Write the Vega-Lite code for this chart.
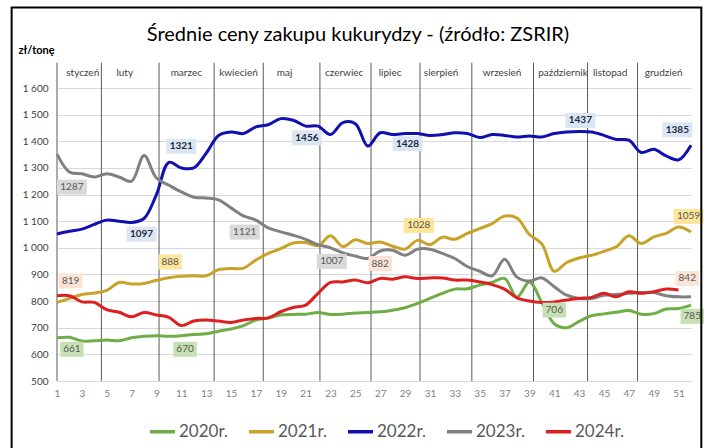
{
  "$schema": "https://vega.github.io/schema/vega-lite/v6.json",
  "width": 634,
  "height": 293,
  "autosize": {"type": "none"},
  "padding": {"left": 57, "top": 88, "right": 19, "bottom": 67},
  "background": "white",
  "config": {
    "font": "Lato",
    "view": {"stroke": null},
    "axis": {"labelOverlap": false, "labelFlush": false},
    "locale": {"number": {"decimal": ",", "thousands": " ", "grouping": [3], "currency": ["", " zł"]}}
  },
  "title": {
    "text": "Średnie ceny zakupu kukurydzy - (źródło: ZSRIR)",
    "fontSize": 20,
    "fontWeight": "normal",
    "color": "#000000",
    "anchor": "middle",
    "dx": -16,
    "offset": -38
  },
  "datasets": {
    "prices": [
      {"w": 1, "2020r": 662, "2021r": 795, "2022r": 1052, "2023r": 1352, "2024r": 820},
      {"w": 2, "2020r": 664, "2021r": 810, "2022r": 1062, "2023r": 1285, "2024r": 820},
      {"w": 3, "2020r": 650, "2021r": 825, "2022r": 1070, "2023r": 1278, "2024r": 797},
      {"w": 4, "2020r": 651, "2021r": 830, "2022r": 1088, "2023r": 1266, "2024r": 795},
      {"w": 5, "2020r": 654, "2021r": 840, "2022r": 1104, "2023r": 1278, "2024r": 768},
      {"w": 6, "2020r": 651, "2021r": 870, "2022r": 1100, "2023r": 1266, "2024r": 758},
      {"w": 7, "2020r": 662, "2021r": 864, "2022r": 1095, "2023r": 1250, "2024r": 741},
      {"w": 8, "2020r": 668, "2021r": 866, "2022r": 1110, "2023r": 1347, "2024r": 757},
      {"w": 9, "2020r": 670, "2021r": 878, "2022r": 1200, "2023r": 1262, "2024r": 748},
      {"w": 10, "2020r": 668, "2021r": 888, "2022r": 1321, "2023r": 1235, "2024r": 739},
      {"w": 11, "2020r": 670, "2021r": 893, "2022r": 1300, "2023r": 1210, "2024r": 708},
      {"w": 12, "2020r": 675, "2021r": 895, "2022r": 1300, "2023r": 1190, "2024r": 725},
      {"w": 13, "2020r": 677, "2021r": 895, "2022r": 1355, "2023r": 1187, "2024r": 729},
      {"w": 14, "2020r": 687, "2021r": 918, "2022r": 1422, "2023r": 1180, "2024r": 725},
      {"w": 15, "2020r": 695, "2021r": 922, "2022r": 1435, "2023r": 1150, "2024r": 720},
      {"w": 16, "2020r": 708, "2021r": 924, "2022r": 1429, "2023r": 1120, "2024r": 729},
      {"w": 17, "2020r": 729, "2021r": 954, "2022r": 1454, "2023r": 1104, "2024r": 735},
      {"w": 18, "2020r": 736, "2021r": 979, "2022r": 1462, "2023r": 1075, "2024r": 737},
      {"w": 19, "2020r": 748, "2021r": 997, "2022r": 1485, "2023r": 1060, "2024r": 760},
      {"w": 20, "2020r": 750, "2021r": 1018, "2022r": 1479, "2023r": 1047, "2024r": 776},
      {"w": 21, "2020r": 751, "2021r": 1020, "2022r": 1457, "2023r": 1032, "2024r": 785},
      {"w": 22, "2020r": 757, "2021r": 1008, "2022r": 1457, "2023r": 1012, "2024r": 829},
      {"w": 23, "2020r": 750, "2021r": 1045, "2022r": 1425, "2023r": 1000, "2024r": 870},
      {"w": 24, "2020r": 751, "2021r": 1005, "2022r": 1470, "2023r": 981, "2024r": 872},
      {"w": 25, "2020r": 755, "2021r": 1030, "2022r": 1466, "2023r": 969, "2024r": 879},
      {"w": 26, "2020r": 757, "2021r": 1016, "2022r": 1382, "2023r": 960, "2024r": 869},
      {"w": 27, "2020r": 760, "2021r": 1022, "2022r": 1432, "2023r": 988, "2024r": 885},
      {"w": 28, "2020r": 766, "2021r": 1006, "2022r": 1425, "2023r": 991, "2024r": 882},
      {"w": 29, "2020r": 775, "2021r": 995, "2022r": 1429, "2023r": 972, "2024r": 891},
      {"w": 30, "2020r": 791, "2021r": 1028, "2022r": 1429, "2023r": 995, "2024r": 885},
      {"w": 31, "2020r": 810, "2021r": 1012, "2022r": 1422, "2023r": 995, "2024r": 887},
      {"w": 32, "2020r": 829, "2021r": 1040, "2022r": 1425, "2023r": 979, "2024r": 887},
      {"w": 33, "2020r": 845, "2021r": 1032, "2022r": 1432, "2023r": 960, "2024r": 879},
      {"w": 34, "2020r": 846, "2021r": 1054, "2022r": 1429, "2023r": 930, "2024r": 879},
      {"w": 35, "2020r": 860, "2021r": 1072, "2022r": 1414, "2023r": 912, "2024r": 872},
      {"w": 36, "2020r": 870, "2021r": 1091, "2022r": 1425, "2023r": 895, "2024r": 862},
      {"w": 37, "2020r": 885, "2021r": 1119, "2022r": 1422, "2023r": 957, "2024r": 845},
      {"w": 38, "2020r": 815, "2021r": 1112, "2022r": 1416, "2023r": 890, "2024r": 812},
      {"w": 39, "2020r": 872, "2021r": 1050, "2022r": 1420, "2023r": 875, "2024r": 800},
      {"w": 40, "2020r": 795, "2021r": 1015, "2022r": 1416, "2023r": 887, "2024r": 795},
      {"w": 41, "2020r": 715, "2021r": 912, "2022r": 1429, "2023r": 854, "2024r": 797},
      {"w": 42, "2020r": 700, "2021r": 945, "2022r": 1435, "2023r": 822, "2024r": 804},
      {"w": 43, "2020r": 724, "2021r": 962, "2022r": 1437, "2023r": 810, "2024r": 810},
      {"w": 44, "2020r": 745, "2021r": 972, "2022r": 1435, "2023r": 810, "2024r": 814},
      {"w": 45, "2020r": 752, "2021r": 987, "2022r": 1422, "2023r": 822, "2024r": 829},
      {"w": 46, "2020r": 758, "2021r": 1004, "2022r": 1407, "2023r": 825, "2024r": 816},
      {"w": 47, "2020r": 765, "2021r": 1045, "2022r": 1404, "2023r": 829, "2024r": 835},
      {"w": 48, "2020r": 751, "2021r": 1016, "2022r": 1358, "2023r": 832, "2024r": 829},
      {"w": 49, "2020r": 753, "2021r": 1041, "2022r": 1370, "2023r": 832, "2024r": 835},
      {"w": 50, "2020r": 770, "2021r": 1054, "2022r": 1345, "2023r": 820, "2024r": 845},
      {"w": 51, "2020r": 772, "2021r": 1078, "2022r": 1330, "2023r": 816, "2024r": 842},
      {"w": 52, "2020r": 785, "2021r": 1059, "2022r": 1385, "2023r": 816, "2024r": null}
    ],
    "labels": [
      {"t": "1287", "s": "2023r", "w": 2.2, "v": 1228},
      {"t": "1097", "s": "2022r", "w": 7.8, "v": 1051},
      {"t": "1321", "s": "2022r", "w": 11, "v": 1381},
      {"t": "888", "s": "2021r", "w": 10.1, "v": 947},
      {"t": "1121", "s": "2023r", "w": 16.1, "v": 1059},
      {"t": "1456", "s": "2022r", "w": 21.1, "v": 1413},
      {"t": "1007", "s": "2023r", "w": 23.1, "v": 949},
      {"t": "819", "s": "2024r", "w": 2.1, "v": 876},
      {"t": "661", "s": "2020r", "w": 2.2, "v": 619},
      {"t": "670", "s": "2020r", "w": 11.3, "v": 619},
      {"t": "882", "s": "2024r", "w": 27, "v": 941},
      {"t": "1428", "s": "2022r", "w": 29.2, "v": 1391},
      {"t": "1028", "s": "2021r", "w": 30.1, "v": 1084},
      {"t": "1437", "s": "2022r", "w": 43.1, "v": 1478},
      {"t": "1385", "s": "2022r", "w": 50.9, "v": 1443},
      {"t": "1059", "s": "2021r", "w": 51.8, "v": 1118},
      {"t": "842", "s": "2024r", "w": 51.7, "v": 885},
      {"t": "706", "s": "2020r", "w": 41, "v": 766},
      {"t": "785", "s": "2020r", "w": 52.1, "v": 743}
    ],
    "months": [
      {"m": "styczeń", "w": 3.07},
      {"m": "luty", "w": 6.45},
      {"m": "marzec", "w": 11.4},
      {"m": "kwiecień", "w": 15.6},
      {"m": "maj", "w": 19.3},
      {"m": "czerwiec", "w": 24.1},
      {"m": "lipiec", "w": 27.8},
      {"m": "sierpień", "w": 31.9},
      {"m": "wrzesień", "w": 36.8},
      {"m": "październik", "w": 41.7},
      {"m": "listopad", "w": 45.5},
      {"m": "grudzień", "w": 49.8}
    ],
    "seps": [
      {"w": 1}, {"w": 4.57}, {"w": 9.21}, {"w": 13.64}, {"w": 17.59}, {"w": 22.15},
      {"w": 26.26}, {"w": 30.2}, {"w": 34.37}, {"w": 39.33}, {"w": 43.68}, {"w": 47.7}
    ]
  },
  "layer": [
    {
      "data": {"name": "seps"},
      "mark": {"type": "rule", "color": "#595959", "strokeWidth": 1},
      "encoding": {
        "x": {
          "field": "w", "type": "quantitative",
          "scale": {"domain": [1, 52], "nice": false, "zero": false},
          "axis": {
            "title": null,
            "values": [1,3,5,7,9,11,13,15,17,19,21,23,25,27,29,31,33,35,37,39,41,43,45,47,49,51],
            "tickCount": 60,
            "grid": false, "ticks": false, "tickSize": 0,
            "labelOverlap": false, "labelFlush": false,
            "domainColor": "#d9d9d9",
            "labelColor": "#7f7f7f", "labelFontSize": 10, "labelPadding": 7
          }
        },
        "y": {
          "datum": 500, "type": "quantitative",
          "scale": {"domain": [500, 1600], "nice": false, "zero": false},
          "axis": {
            "title": "zł/tonę",
            "titleAngle": 0, "titleX": -39, "titleY": -38,
            "titleAlign": "left", "titleBaseline": "middle",
            "titleFontSize": 11, "titleFontWeight": "bold", "titleColor": "#000000",
            "values": [500,600,700,800,900,1000,1100,1200,1300,1400,1500,1600],
            "tickCount": 30,
            "format": ",d",
            "labelOverlap": false, "labelFlush": false,
            "grid": true, "gridColor": "#d9d9d9",
            "domain": false, "ticks": false, "tickSize": 0,
            "labelColor": "#404040", "labelFontSize": 10, "labelPadding": 9
          }
        },
        "y2": {"datum": 1695}
      }
    },
    {
      "data": {"name": "prices"},
      "transform": [
        {"fold": ["2020r", "2021r", "2022r", "2023r", "2024r"], "as": ["s", "v"]}
      ],
      "mark": {"type": "line", "interpolate": "catmull-rom", "strokeWidth": 3},
      "encoding": {
        "x": {"field": "w", "type": "quantitative"},
        "y": {"field": "v", "type": "quantitative"},
        "stroke": {
          "field": "s", "type": "nominal",
          "scale": {
            "domain": ["2020r", "2021r", "2022r", "2023r", "2024r"],
            "range": ["#70ad47", "#c9a227", "#1010b0", "#808080", "#dc1f1f"]
          },
          "legend": {
            "orient": "none", "legendX": 91, "legendY": 329,
            "direction": "horizontal", "title": null,
            "labelExpr": "datum.label + '.'",
            "labelFontSize": 17, "labelColor": "#595959",
            "symbolType": "stroke", "symbolSize": 625, "symbolStrokeWidth": 3.5,
            "labelOffset": 2, "columnPadding": 14
          }
        }
      }
    },
    {
      "data": {"name": "labels"},
      "mark": {"type": "point", "filled": true, "opacity": 1, "size": 900, "strokeWidth": 0},
      "encoding": {
        "x": {"field": "w", "type": "quantitative"},
        "y": {"field": "v", "type": "quantitative"},
        "shape": {
          "condition": {"test": "length(datum.t) > 3", "value": "M-1,-0.5H1V0.5H-1Z"},
          "value": "M-0.78,-0.5H0.78V0.5H-0.78Z"
        },
        "fill": {
          "field": "s", "type": "nominal",
          "scale": {
            "domain": ["2020r", "2021r", "2022r", "2023r", "2024r"],
            "range": ["#c6e0b4", "#fde699", "#dce6f2", "#d9d9d9", "#fbe3d6"]
          },
          "legend": null
        }
      }
    },
    {
      "data": {"name": "labels"},
      "transform": [{"filter": "datum.s == '2022r'"}],
      "mark": {"type": "text", "fontSize": 10, "fontWeight": "bold", "color": "#1f2a44"},
      "encoding": {
        "x": {"field": "w", "type": "quantitative"},
        "y": {"field": "v", "type": "quantitative"},
        "text": {"field": "t"}
      }
    },
    {
      "data": {"name": "labels"},
      "transform": [{"filter": "datum.s != '2022r'"}],
      "mark": {"type": "text", "fontSize": 10, "color": "#595959"},
      "encoding": {
        "x": {"field": "w", "type": "quantitative"},
        "y": {"field": "v", "type": "quantitative"},
        "text": {"field": "t"}
      }
    },
    {
      "data": {"name": "months"},
      "mark": {"type": "text", "fontSize": 10, "color": "#404040"},
      "encoding": {
        "x": {"field": "w", "type": "quantitative"},
        "y": {"datum": 1657, "type": "quantitative"},
        "text": {"field": "m"}
      }
    },
    {
      "data": {"values": [{"f": 1}]},
      "mark": {"type": "rect", "filled": false, "stroke": "#000000", "strokeWidth": 2},
      "encoding": {
        "x": {"datum": -2.65, "type": "quantitative"},
        "x2": {"datum": 52.83},
        "y": {"datum": 1902, "type": "quantitative"},
        "y2": {"datum": 220}
      }
    }
  ]
}
